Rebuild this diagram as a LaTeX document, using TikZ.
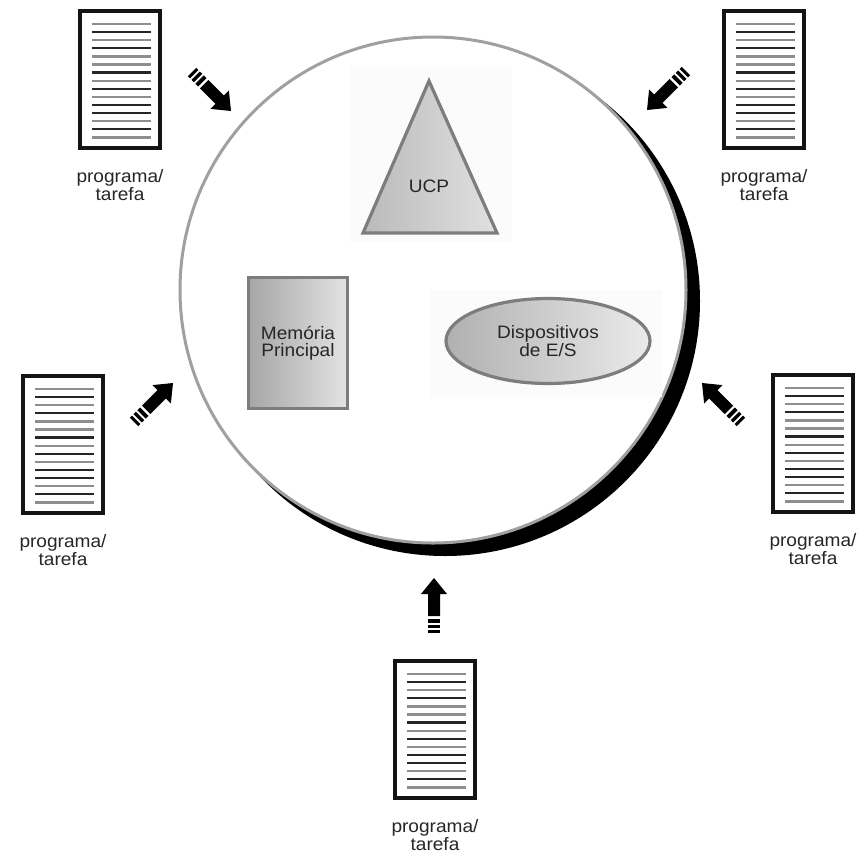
\documentclass[tikz,border=0pt]{standalone}
\usepackage{fontspec}
\setmainfont{Liberation Sans}[FakeStretch=1.06]
\usetikzlibrary{shapes.geometric}

\definecolor{rimgray}{HTML}{A0A0A0}
\definecolor{shapeedge}{HTML}{7D7D7D}
\definecolor{lineA}{HTML}{8E8E8E}
\definecolor{lineB}{HTML}{262626}
\definecolor{haze}{HTML}{FBFBFB}

\tikzset{
  lbl/.style={font=\fontsize{18}{17.5}\selectfont, align=center, text=black!85, inner sep=0pt},
  shapeline/.style={draw=shapeedge, line width=3.2pt, line join=miter},
  docicon/.pic={
    \draw[line width=4pt, black!92] (2,2) rectangle (82,139);
    \foreach \i/\c in {0/lineA,1/lineB,2/lineA,3/lineB,4/lineA,5/lineA,6/lineB,7/lineA,
                       8/lineB,9/lineA,10/lineB,11/lineB,12/lineA,13/lineB,14/lineA}
      \draw[line width=2.3pt, \c] (14,15+8.1*\i) -- (73,15+8.1*\i);
  },
  hatcharrow/.pic={
    \fill[black] (0,0) -- (-16,13) -- (-16,6) -- (-38,6) -- (-38,-6) -- (-16,-6) -- (-16,-13) -- cycle;
    \fill[black] (-40.5,-6) rectangle (-44.5,6);
    \fill[black] (-46.5,-6) rectangle (-50,6);
    \fill[black] (-52,-6) rectangle (-55,6);
  }
}

\begin{document}
\begin{tikzpicture}[x=1pt, y=-1pt]
  \useasboundingbox (0,0) rectangle (865,855);

  % system circle with its drop shadow
  \coordinate (sysc) at (433,290);
  \fill[black] (445,301) circle (255);
  \draw[rimgray, line width=3pt, fill=white] (sysc) circle (253);

  % faint panels behind the components
  \fill[haze] (350,67) rectangle (512,242);
  \fill[haze] (430,290) rectangle (662,397);

  % processor
  \draw[shapeline, left color=black!27, right color=black!12]
    (429,81) -- (497,233) -- (363,233) -- cycle;
  \node[lbl] (ucp) at (429,186) {UCP};

  % main memory
  \node[shapeline, rectangle, minimum width=99pt, minimum height=131pt,
        left color=black!35, right color=black!11, lbl] (mem) at (298,343)
        {Memória\\Principal};

  % I/O devices
  \node[shapeline, ellipse, minimum width=204pt, minimum height=85pt,
        left color=black!31, right color=black!8, lbl] (io) at (548,341)
        {Dispositivos\\de E/S};

  % incoming programs
  \pic at (78,9) {docicon};
  \node[lbl] (tl) at (120,185) {programa/\\tarefa};
  \pic at (722,9) {docicon};
  \node[lbl] (tr) at (764,185) {programa/\\tarefa};
  \pic at (21,374) {docicon};
  \node[lbl] (ml) at (63,550) {programa/\\tarefa};
  \pic at (771,373) {docicon};
  \node[lbl] (mr) at (813,549) {programa/\\tarefa};
  \pic at (393,659) {docicon};
  \node[lbl] (bt) at (435,835) {programa/\\tarefa};

  % arrows pointing into the system
  \coordinate (atl) at (231,111);
  \coordinate (atr) at (647,110);
  \coordinate (aml) at (173,383);
  \coordinate (amr) at (702,383);
  \coordinate (abt) at (434,578);
  \pic[rotate=-45] at (atl) {hatcharrow};
  \pic[rotate=-135] at (atr) {hatcharrow};
  \pic[rotate=45] at (aml) {hatcharrow};
  \pic[rotate=135] at (amr) {hatcharrow};
  \pic[rotate=90] at (abt) {hatcharrow};
\end{tikzpicture}
\end{document}
